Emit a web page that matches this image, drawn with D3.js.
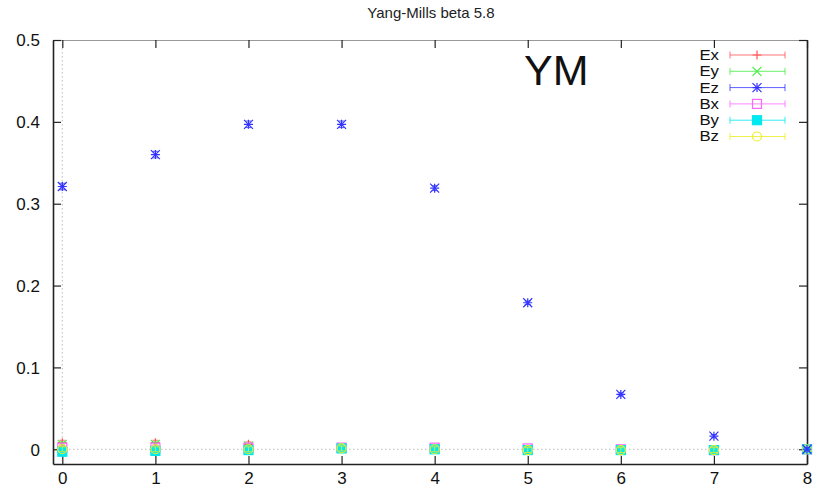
<!DOCTYPE html>
<html>
<head>
<meta charset="utf-8">
<script src="https://cdn.jsdelivr.net/npm/d3@7"></script>
<style>
  body { margin: 0; background: #fff; }
  text { font-family: "Liberation Sans", Arial, sans-serif; }
</style>
</head>
<body>
<div id="chart"></div>
<script>
"use strict";

var distances = [0, 1, 2, 3, 4, 5, 6, 7, 8];
var seriesNames = ["Ex", "Ey", "Ez", "Bx", "By", "Bz"];
var exValues = [0.008, 0.008, 0.006, 0.002, 0.001, 0.000, -0.002, -0.002, 0.000];
var eyValues = [0.006, 0.006, 0.004, 0.002, 0.001, 0.000, -0.001, -0.001, 0.000];
var ezValues = [0.321, 0.360, 0.397, 0.397, 0.319, 0.179, 0.067, 0.016, 0.000];
var bxValues = [0.002, 0.002, 0.002, 0.002, 0.002, 0.001, 0.000, -0.001, 0.000];
var byValues = [-0.003, -0.002, -0.001, 0.001, 0.000, -0.001, -0.001, -0.001, 0.000];
var bzValues = [0.000, 0.000, 0.000, 0.001, 0.000, -0.001, -0.001, -0.001, 0.000];
var ezErrors = [0.004, 0.004, 0.004, 0.004, 0.003, 0.002, 0.002, 0.002, 0.002];
var smallError = 0.003;
var xTicks = [0, 1, 2, 3, 4, 5, 6, 7, 8];
var yTicks = [0, 0.1, 0.2, 0.3, 0.4, 0.5];

var colors = ["#ff5555", "#44ee44", "#3333ff", "#ff66ff", "#00e8f0", "#eeee22"];
var shapes = ["plus", "cross", "star", "box", "boxfill", "circle"];

function drawMarker(g, shape, color) {
    var s = 4.5;
    if (shape === "plus" || shape === "star") {
        g.append("path").attr("d", "M" + (-s) + ",0H" + s + "M0," + (-s) + "V" + s)
         .attr("stroke", color).attr("stroke-width", 1.2).attr("fill", "none");
    }
    if (shape === "cross" || shape === "star") {
        g.append("path").attr("d", "M" + (-s) + "," + (-s) + "L" + s + "," + s + "M" + (-s) + "," + s + "L" + s + "," + (-s))
         .attr("stroke", color).attr("stroke-width", 1.2).attr("fill", "none");
    }
    if (shape === "box" || shape === "boxfill") {
        g.append("rect").attr("x", -s).attr("y", -s).attr("width", 2 * s).attr("height", 2 * s)
         .attr("stroke", color).attr("stroke-width", 1.2)
         .attr("fill", shape === "boxfill" ? color : "none");
    }
    if (shape === "circle") {
        g.append("circle").attr("r", s).attr("stroke", color).attr("stroke-width", 1.2).attr("fill", "none");
    }
}

function chart() {
    var w = 816;
    var h = 488;
    var margin = {top: 40, right: 9, bottom: 24, left: 53};

    var svg = d3.select("#chart")
                .append("svg")
                .attr("width", w)
                .attr("height", h);

    var x = d3.scaleLinear().domain([-0.1, 8]).range([margin.left, w - margin.right]);
    var y = d3.scaleLinear().domain([-0.018, 0.5]).range([h - margin.bottom, margin.top]);

    // title
    svg.append("text")
       .attr("x", 431).attr("y", 18)
       .attr("text-anchor", "middle")
       .style("font-size", "15px")
       .attr("fill", "#222")
       .text("Yang-Mills beta 5.8");

    // zero axes (dotted)
    svg.append("line")
       .attr("x1", x(-0.1)).attr("x2", x(8)).attr("y1", y(0)).attr("y2", y(0))
       .attr("stroke", "#bbb").attr("stroke-dasharray", "1.5,2.5");
    svg.append("line")
       .attr("x1", x(0)).attr("x2", x(0)).attr("y1", y(0.5)).attr("y2", y(-0.018))
       .attr("stroke", "#bbb").attr("stroke-dasharray", "1.5,2.5");

    // axes with inward ticks
    var bottomAxis = d3.axisBottom(x).tickValues(xTicks).tickFormat(d3.format("d")).tickSizeInner(-8).tickSizeOuter(0).tickPadding(8);
    var topAxis = d3.axisTop(x).tickValues(xTicks).tickFormat("").tickSizeInner(-8).tickSizeOuter(0);
    var leftAxis = d3.axisLeft(y).tickValues(yTicks).tickFormat(function(d){ return d === 0 ? "0" : d3.format(".1f")(d); }).tickSizeInner(-8).tickSizeOuter(0).tickPadding(13);
    var rightAxis = d3.axisRight(y).tickValues(yTicks).tickFormat("").tickSizeInner(-8).tickSizeOuter(0);

    var gb = svg.append("g").attr("transform", "translate(0," + y(-0.018) + ")").call(bottomAxis);
    var gt = svg.append("g").attr("transform", "translate(0," + y(0.5) + ")").call(topAxis);
    var gl = svg.append("g").attr("transform", "translate(" + x(-0.1) + ",0)").call(leftAxis);
    var gr = svg.append("g").attr("transform", "translate(" + x(8) + ",0)").call(rightAxis);

    [gb, gl, gr].forEach(function(g) {
        g.selectAll("path").attr("stroke", "#222").attr("stroke-width", 1.6);
        g.selectAll("line").attr("stroke", "#222").attr("stroke-width", 1.2);
        g.selectAll("text").style("font-size", "17px").attr("fill", "#111")
         .style("font-family", "Liberation Sans, Arial, sans-serif");
    });
    gt.selectAll("path").attr("stroke", "#999").attr("stroke-width", 1.2);
    gt.selectAll("line").attr("stroke", "#222").attr("stroke-width", 1.2);
    gl.selectAll("text").attr("dy", "0.35em");
    gb.selectAll("text").attr("dy", "0.71em");

    // big label
    svg.append("text")
       .attr("x", 524).attr("y", 85)
       .style("font-size", "43px")
       .attr("fill", "#111")
       .text("YM");

    var allValues = [exValues, eyValues, ezValues, bxValues, byValues, bzValues];
    var plot = svg.append("g");

    // draw series (Ez last so it sits above)
    [0, 1, 3, 4, 5, 2].forEach(function(si) {
        var values = allValues[si];
        var pts = distances.map(function(d, i) {
            return {x: d, v: values[i], e: si === 2 ? ezErrors[i] : smallError};
        });
        var g = plot.append("g");
        g.selectAll("path.err")
         .data(pts)
         .enter()
         .append("path")
         .attr("class", "err")
         .attr("d", function(p) {
             var px = x(p.x), lo = y(p.v - p.e), hi = y(p.v + p.e);
             return "M" + px + "," + lo + "V" + hi +
                    "M" + (px - 3) + "," + lo + "H" + (px + 3) +
                    "M" + (px - 3) + "," + hi + "H" + (px + 3);
         })
         .attr("stroke", colors[si]).attr("stroke-width", 1).attr("fill", "none").attr("opacity", 0.8);
        g.selectAll("g.pt")
         .data(pts)
         .enter()
         .append("g")
         .attr("class", "pt")
         .attr("transform", function(p) { return "translate(" + x(p.x) + "," + y(p.v) + ")"; })
         .each(function() { drawMarker(d3.select(this), shapes[si], colors[si]); });
    });

    // legend (text squeezed vertically so rows don't collide)
    var legend = svg.append("g");
    seriesNames.forEach(function(name, i) {
        var ly = 55 + i * 16.3;
        legend.append("text")
              .attr("transform", "translate(719," + ly + ") scale(1.2,1)")
              .attr("dy", "0.35em")
              .attr("text-anchor", "end")
              .style("font-size", "14px")
              .attr("fill", "#111")
              .text(name);
        legend.append("path")
              .attr("d", "M730," + ly + "H785M730," + (ly - 3.5) + "V" + (ly + 3.5) + "M785," + (ly - 3.5) + "V" + (ly + 3.5))
              .attr("stroke", colors[i]).attr("stroke-width", 1).attr("fill", "none").attr("opacity", 0.8);
        var m = legend.append("g").attr("transform", "translate(757," + ly + ")");
        drawMarker(m, shapes[i], colors[i]);
    });
}

window.onload = chart;
</script>
</body>
</html>
